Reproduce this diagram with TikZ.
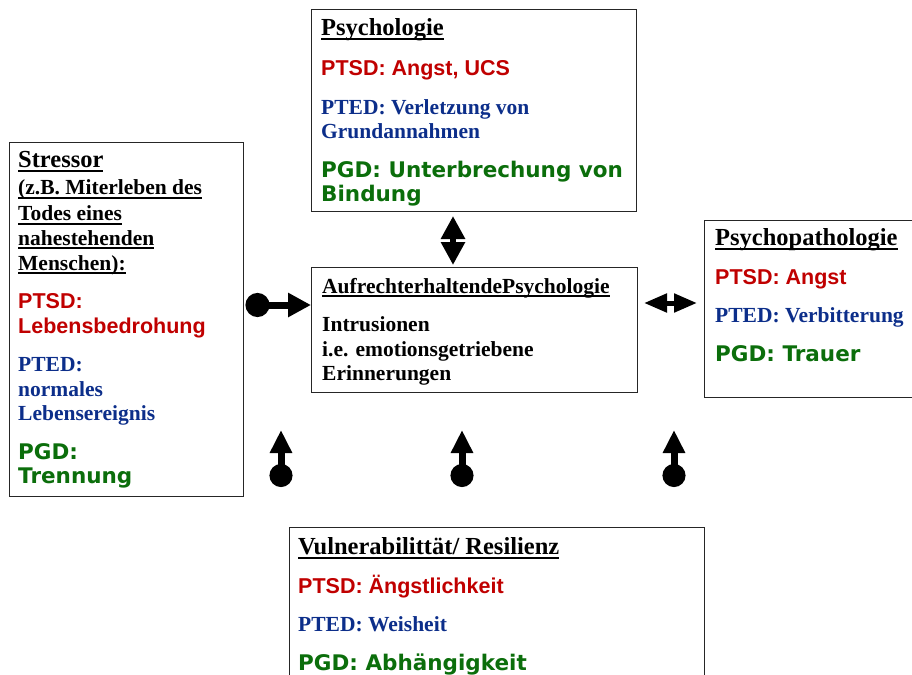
\documentclass[tikz,border=0pt]{standalone}
\usepackage{fontspec}
\setmainfont{Liberation Serif}
\newfontfamily\arialfont{Liberation Sans}
\newfontfamily\verdfont{DejaVu Sans}
\usepackage{xcolor}
\usetikzlibrary{arrows.meta,positioning,calc}
\definecolor{ptsd}{HTML}{C00000}
\definecolor{pted}{HTML}{0C2E8A}
\definecolor{pgd}{HTML}{0B6E0B}

% underlined headings and coloured entries
\newcommand{\ulbox}[1]{\setbox0\hbox{#1}\rlap{\rule[-4pt]{\wd0}{2pt}}\box0}
\newcommand{\headbig}[1]{\ulbox{\fontsize{24.5}{24.5}\selectfont\bfseries #1}}
\newcommand{\headsm}[1]{\ulbox{\bfseries #1}}
\newcommand{\ptsdtxt}[1]{{\arialfont\bfseries\color{ptsd}#1}}
\newcommand{\ptedtxt}[1]{{\bfseries\color{pted}#1}}
\newcommand{\pgdtxt}[1]{{\verdfont\bfseries\color{pgd}#1}}

\tikzset{
  box/.style={draw=black!85, line width=1.4pt, anchor=north west, inner sep=0pt},
  boxtext/.style={anchor=north west, align=left, inner sep=0pt, font=\fontsize{21.5}{24.5}\selectfont},
  ballarrow/.style={line width=7pt, {Circle[length=24pt]}-{Triangle[length=23pt,width=23pt]}},
  ballup/.style={line width=7pt, {Circle[length=23pt]}-{Triangle[length=23pt,width=21pt]}},
  dblarrow/.style={line width=6pt, {Triangle[length=23pt,width=23pt]}-{Triangle[length=23pt,width=23pt]}},
  dblarrowh/.style={line width=5pt, {Triangle[length=23pt,width=18pt]}-{Triangle[length=23pt,width=18pt]}},
}

\begin{document}
\begin{tikzpicture}[x=1pt, y=-1pt]
\useasboundingbox (0,0) rectangle (912,674);

% --- Psychologie (top) ---
\node[box, minimum width=325pt, minimum height=202pt] (psy) at (311,9) {};
\node[boxtext] (psytext) at ([shift={(10pt,-9.5pt)}]psy.north west) {%
  \headbig{Psychologie}\\[15.5pt]
  \ptsdtxt{PTSD: Angst, UCS}\\[14pt]
  \ptedtxt{PTED: Verletzung von}\\
  \ptedtxt{Grundannahmen}\\[14pt]
  \pgdtxt{PGD: Unterbrechung von}\\
  \pgdtxt{Bindung}};

% --- Stressor (left) ---
\node[box, minimum width=234pt, minimum height=354pt] (stress) at (9,142) {};
\node[boxtext] (stresstext) at ([shift={(9pt,-9.5pt)}]stress.north west) {%
  \headbig{Stressor}\\[2.5pt]
  \headsm{(z.B. Miterleben des}\\[1.5pt]
  \headsm{Todes eines}\\
  \headsm{nahestehenden}\\[0.5pt]
  \headsm{Menschen):}\\[14pt]
  \ptsdtxt{PTSD:}\\
  \ptsdtxt{Lebensbedrohung}\\[14pt]
  \ptedtxt{PTED:}\\
  \ptedtxt{normales}\\
  \ptedtxt{Lebensereignis}\\[14pt]
  \pgdtxt{PGD:}\\
  \pgdtxt{Trennung}};

% --- Aufrechterhaltende Psychologie (centre) ---
\node[box, minimum width=326pt, minimum height=125pt] (mid) at (311,267) {};
\node[boxtext] (midtext) at ([shift={(11pt,-11pt)}]mid.north west) {%
  \headsm{AufrechterhaltendePsychologie}\\[14pt]
  \textbf{Intrusionen}\\
  \textbf{i.e. emotionsgetriebene}\\
  \textbf{Erinnerungen}};

% --- Psychopathologie (right) ---
\node[box, minimum width=215pt, minimum height=177pt] (path) at (704,220) {};
\node[boxtext] (pathtext) at ([shift={(11pt,-8.5pt)}]path.north west) {%
  \headbig{Psychopathologie}\\[14pt]
  \ptsdtxt{PTSD: Angst}\\[14pt]
  \ptedtxt{PTED: Verbitterung}\\[14pt]
  \pgdtxt{PGD: Trauer}};

% --- Vulnerabilitaet / Resilienz (bottom) ---
\node[box, minimum width=415pt, minimum height=170pt] (vul) at (289,527) {};
\node[boxtext] (vultext) at ([shift={(9pt,-10.5pt)}]vul.north west) {%
  \headbig{Vulnerabilittät/ Resilienz}\\[14pt]
  \ptsdtxt{PTSD: Ängstlichkeit}\\[14pt]
  \ptedtxt{PTED: Weisheit}\\[14pt]
  \pgdtxt{PGD: Abhängigkeit}};

% Arrows
\coordinate (stressout) at (245.5,305);
\draw[ballarrow] (stressout) -- (stressout -| mid.west);

\coordinate (psyout) at (453,216);
\draw[dblarrow, shorten >=2pt] (psyout) -- (psyout |- mid.north);

\coordinate (midout) at (644,303);
\draw[dblarrowh, shorten >=7pt] (midout) -- (midout -| path.west);

% three influences from below
\foreach \x [count=\i] in {281,462,674} {
  \coordinate (vulin\i) at (\x,487);
  \draw[ballup] (vulin\i) -- ++(0,-57);
}
\end{tikzpicture}
\end{document}
